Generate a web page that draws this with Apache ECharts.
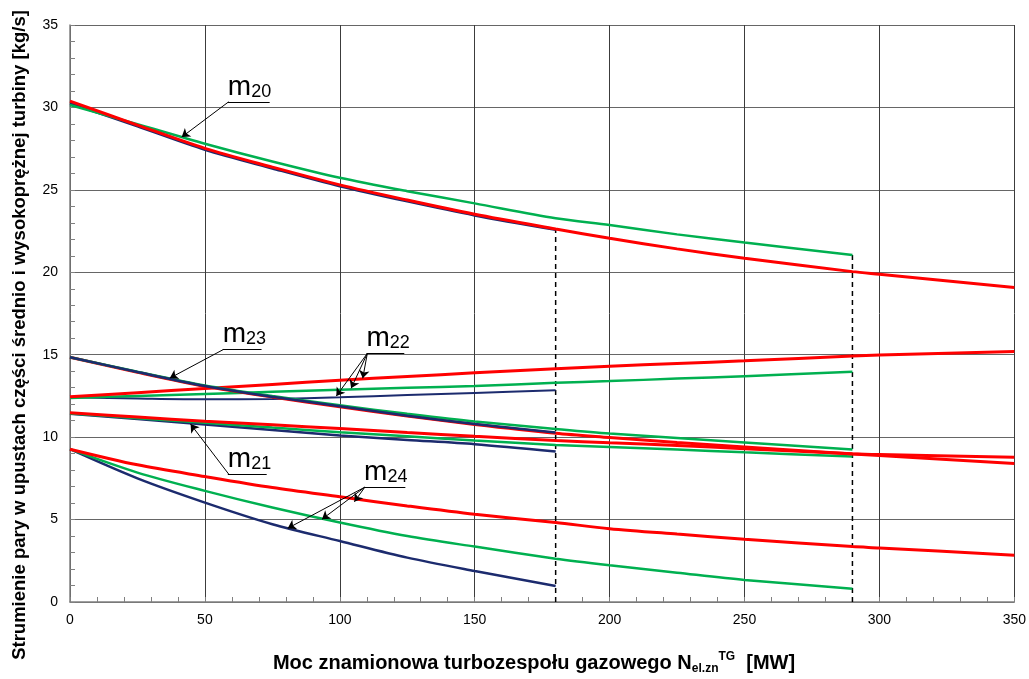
<!DOCTYPE html>
<html>
<head>
<meta charset="utf-8">
<script src="https://cdn.jsdelivr.net/npm/echarts@6/dist/echarts.min.js"></script>
<style>
  html, body { margin: 0; padding: 0; background: #fff; }
  #chart { width: 1029px; height: 679px; }
</style>
</head>
<body>
<div id="chart"></div>
<script>
// Gas turbine rated power [MW] at which each curve is sampled
const xBlue  = [0, 25, 50, 75, 100, 125, 150, 180];
const xGreen = [0, 25, 50, 75, 100, 125, 150, 180, 200, 225, 250, 290];
const xRed   = [0, 25, 50, 75, 100, 125, 150, 180, 200, 225, 250, 290, 300, 350];

// Steam extraction flows [kg/s]
const m20Blue  = [30.25, 28.85, 27.43, 26.30, 25.22, 24.30, 23.45, 22.58];
const m20Green = [30.15, 28.98, 27.80, 26.72, 25.73, 24.92, 24.18, 23.28, 22.87, 22.30, 21.80, 21.05];
const m20Red   = [30.38, 28.93, 27.52, 26.38, 25.30, 24.38, 23.52, 22.63, 22.06, 21.42, 20.85, 20.04, 19.88, 19.08];

const m22Blue  = [12.42, 12.35, 12.30, 12.32, 12.42, 12.55, 12.68, 12.84];
const m22Green = [12.38, 12.50, 12.62, 12.75, 12.88, 13.00, 13.10, 13.30, 13.40, 13.55, 13.70, 13.96];
const m22Red   = [12.45, 12.70, 12.95, 13.20, 13.45, 13.68, 13.90, 14.15, 14.30, 14.47, 14.63, 14.92, 14.98, 15.20];

const m23Blue  = [14.85, 13.95, 13.10, 12.45, 11.88, 11.30, 10.80, 10.28];
const m23Green = [14.85, 13.97, 13.14, 12.50, 11.93, 11.42, 10.95, 10.50, 10.22, 9.95, 9.68, 9.25];
const m23Red   = [14.85, 13.93, 13.08, 12.43, 11.85, 11.28, 10.77, 10.24, 9.98, 9.67, 9.40, 8.98, 8.88, 8.40];

const m21Blue  = [11.42, 11.10, 10.77, 10.44, 10.10, 9.83, 9.57, 9.13];
const m21Green = [11.44, 11.15, 10.87, 10.58, 10.30, 10.05, 9.80, 9.53, 9.40, 9.25, 9.08, 8.82];
const m21Red   = [11.48, 11.22, 10.97, 10.75, 10.52, 10.28, 10.05, 9.80, 9.66, 9.50, 9.30, 9.00, 8.95, 8.78];

const m24Blue  = [9.27, 7.50, 6.03, 4.72, 3.70, 2.69, 1.88, 0.97];
const m24Green = [9.27, 7.85, 6.74, 5.73, 4.82, 4.00, 3.36, 2.63, 2.23, 1.78, 1.34, 0.81];
const m24Red   = [9.27, 8.32, 7.61, 6.94, 6.38, 5.83, 5.32, 4.82, 4.45, 4.12, 3.81, 3.36, 3.28, 2.83];

// Axis ticks
const xTicks = [0, 50, 100, 150, 200, 250, 300, 350];
const yTicks = [0, 5, 10, 15, 20, 25, 30, 35];

// Power limits of the two smaller units (dashed verticals), topped by the m20 curves
const limitX = [180, 290];
const limitTop = [m20Red[xRed.indexOf(180)], m20Green[m20Green.length - 1]];

// Curve labels: subscript, underline [x1, x2, y], arrow tips [x, y]
const callouts = [
  { sub: '20', under: [58.5, 74.0, 30.34], tips: [[41.4, 28.20]] },
  { sub: '23', under: [56.6, 71.0, 15.32], tips: [[37.0, 13.58]] },
  { sub: '22', under: [109.9, 123.9, 15.08], tips: [[98.7, 12.49], [104.2, 12.96], [108.5, 13.57]] },
  { sub: '21', under: [58.5, 72.9, 7.76], tips: [[44.7, 10.79]] },
  { sub: '24', under: [109.0, 124.3, 6.97], tips: [[80.7, 4.47], [93.4, 5.02], [105.4, 6.08]] }
];

const FONT = '"Liberation Sans", Arial, sans-serif';
const BLUE = '#1c2b6e', GREEN = '#00b050', RED = '#ff0000';

function pairs(xs, ys) { return xs.map((x, i) => [x, ys[i]]); }

function curve(name, xs, ys, color, width) {
  return {
    name: name, type: 'line', data: pairs(xs, ys),
    smooth: 0.3, showSymbol: false, symbol: 'none',
    lineStyle: { color: color, width: width }, itemStyle: { color: color },
    silent: true, animation: false
  };
}

const series = [
  // m20: red drawn over blue
  curve('m20 180', xBlue, m20Blue, BLUE, 2.5),
  curve('m20 290', xGreen, m20Green, GREEN, 2.5),
  curve('m20 350', xRed, m20Red, RED, 3),
  // m22
  curve('m22 180', xBlue, m22Blue, BLUE, 2),
  curve('m22 290', xGreen, m22Green, GREEN, 2.5),
  curve('m22 350', xRed, m22Red, RED, 3),
  // m21
  curve('m21 180', xBlue, m21Blue, BLUE, 2.5),
  curve('m21 290', xGreen, m21Green, GREEN, 2.5),
  curve('m21 350', xRed, m21Red, RED, 3),
  // m23: blue drawn over red and green
  curve('m23 350', xRed, m23Red, RED, 3),
  curve('m23 290', xGreen, m23Green, GREEN, 2.5),
  curve('m23 180', xBlue, m23Blue, BLUE, 2.5),
  // m24
  curve('m24 180', xBlue, m24Blue, BLUE, 2.5),
  curve('m24 290', xGreen, m24Green, GREEN, 2.5),
  curve('m24 350', xRed, m24Red, RED, 3)
];

// Dashed vertical limit lines
limitX.forEach((x, i) => {
  series.push({
    type: 'line', data: [[x, 0], [x, limitTop[i]]],
    showSymbol: false, symbol: 'none', silent: true, animation: false, z: 1,
    lineStyle: { color: '#000', width: 1.5, type: [5, 4] }
  });
});

// Callout underlines, leader arrows and labels
const markLines = [];
const markPoints = [];
callouts.forEach(c => {
  const [x1, x2, y] = c.under;
  markLines.push([{ coord: [x1, y], symbol: 'none' }, { coord: [x2, y], symbol: 'none' }]);
  c.tips.forEach(t => {
    markLines.push([{ coord: [x1 + 0.3, y], symbol: 'none' }, { coord: t, symbol: 'arrow', symbolSize: 8 }]);
  });
  markPoints.push({
    coord: [x1, y],
    label: { formatter: '{a|m}{b|' + c.sub + '}' }
  });
});

series.push({
  type: 'line', data: [], silent: true, animation: false, z: 5,
  markLine: {
    silent: true, animation: false,
    lineStyle: { color: '#000', width: 1, type: 'solid' },
    label: { show: false },
    data: markLines
  },
  markPoint: {
    silent: true, animation: false,
    symbol: 'circle', symbolSize: 0,
    itemStyle: { color: 'transparent' },
    label: {
      show: true, position: [0, -1], align: 'left', verticalAlign: 'bottom',
      color: '#000', fontFamily: FONT,
      rich: {
        a: { fontSize: 28, lineHeight: 28, fontFamily: FONT, color: '#000' },
        b: { fontSize: 18, lineHeight: 14, verticalAlign: 'bottom', fontFamily: FONT, color: '#000' }
      }
    },
    data: markPoints
  }
});

const chart = echarts.init(document.getElementById('chart'), null, { renderer: 'canvas' });
chart.setOption({
  backgroundColor: '#fff',
  animation: false,
  grid: { left: 70, right: 13, top: 25, bottom: 77, containLabel: false },
  xAxis: {
    type: 'value', min: xTicks[0], max: xTicks[xTicks.length - 1], interval: xTicks[1] - xTicks[0],
    axisLine: { show: true, onZero: false, lineStyle: { color: '#808080', width: 1.5 } },
    axisTick: { show: true, inside: true, length: 5, lineStyle: { color: '#808080' } },
    minorTick: { show: true, splitNumber: 5, length: 5, lineStyle: { color: '#808080' } },
    axisLabel: { color: '#000', fontSize: 14, fontFamily: FONT, margin: 11 },
    splitLine: { show: true, lineStyle: { color: '#3c3c3c', width: 1 } }
  },
  yAxis: {
    type: 'value', min: yTicks[0], max: yTicks[yTicks.length - 1], interval: yTicks[1] - yTicks[0],
    axisLine: { show: true, onZero: false, lineStyle: { color: '#808080', width: 1.5 } },
    axisTick: { show: true, inside: true, length: 5, lineStyle: { color: '#808080' } },
    minorTick: { show: true, splitNumber: 5, length: 5, lineStyle: { color: '#808080' } },
    axisLabel: { color: '#000', fontSize: 14, fontFamily: FONT, margin: 12 },
    splitLine: { show: true, lineStyle: { color: '#666666', width: 1.2 } }
  },
  graphic: [
    {
      type: 'text', x: 20, y: 335, rotation: Math.PI / 2, silent: true,
      style: {
        text: 'Strumienie pary w upustach części średnio i wysokoprężnej turbiny [kg/s]',
        font: 'bold 18.5px ' + FONT, fill: '#000', align: 'center', verticalAlign: 'middle'
      }
    },
    {
      type: 'text', x: 534, y: 663, silent: true,
      style: {
        text: '{n|Moc znamionowa turbozespołu gazowego N}{s|el.zn}{p|TG}{n|  [MW]}',
        align: 'center', verticalAlign: 'middle', fill: '#000',
        rich: {
          n: { fontSize: 20, fontWeight: 'bold', fontFamily: FONT, lineHeight: 24, fill: '#000' },
          s: { fontSize: 12, fontWeight: 'bold', fontFamily: FONT, lineHeight: 13, verticalAlign: 'bottom', fill: '#000' },
          p: { fontSize: 12, fontWeight: 'bold', fontFamily: FONT, lineHeight: 13, verticalAlign: 'top', fill: '#000' }
        }
      }
    }
  ],
  series: series
});
</script>
</body>
</html>
